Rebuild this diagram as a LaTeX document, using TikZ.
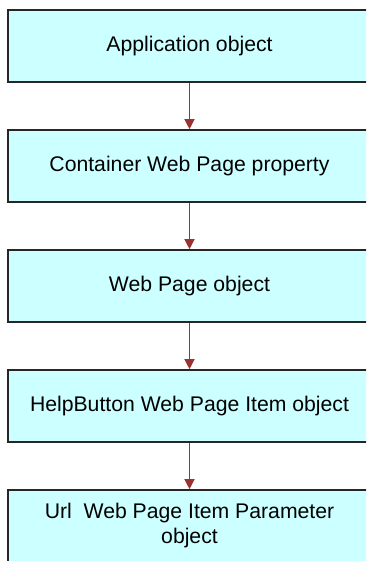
\documentclass[tikz,border=0pt]{standalone}
\usepackage{fontspec}
\setmainfont{Liberation Sans}
\usepackage{xcolor}
\usetikzlibrary{arrows.meta, positioning}
\definecolor{boxfill}{HTML}{CCFFFF}
\definecolor{arrred}{HTML}{993333}

\begin{document}
\begin{tikzpicture}[
    box/.style={rectangle, draw=black!85, line width=0.8pt, fill=boxfill, minimum width=181.5pt, minimum height=36pt, inner sep=0pt, align=center, font=\fontsize{10.6}{12.5}\selectfont},
    arr/.style={-{Triangle[width=5pt, length=5pt]}, draw=arrred, fill=arrred, line width=0.6pt},
    node distance=23.2pt
]
\clip (0,0) rectangle (183pt,-280.5pt);

\node[box] (app) at (94.75pt,-23pt) {Application object};

\node[box, below=of app] (cont) {Container Web Page property};

\node[box, below=of cont] (page) {Web Page object};

\node[box, below=of page] (item) {HelpButton Web Page Item object};

\node[box, below=of item] (param) {Url\ \ Web Page Item Parameter\\ object};

\draw[arr] (app) -- (cont);
\draw[arr] (cont) -- (page);
\draw[arr] (page) -- (item);
\draw[arr] (item) -- (param);

\end{tikzpicture}
\end{document}
